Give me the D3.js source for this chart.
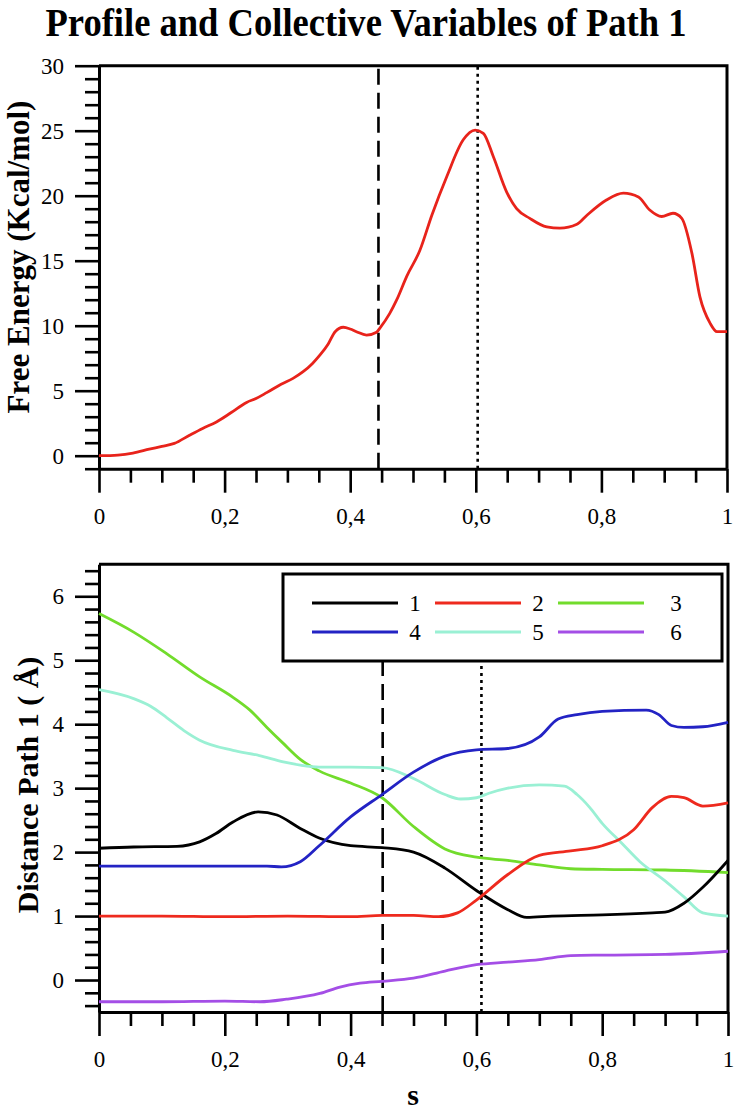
<!DOCTYPE html>
<html>
<head>
<meta charset="utf-8">
<script src="https://cdn.jsdelivr.net/npm/d3@7"></script>
<style>
  html, body { margin: 0; padding: 0; background: #fff; }
  svg { display: block; }
  text { font-family: "Liberation Serif", "Times New Roman", serif; fill: #000; }
</style>
</head>
<body>
<svg id="chart" width="734" height="1112"></svg>
<script>
// ---------------- DATA ----------------
const titleText = "Profile and Collective Variables of Path 1";
const xTickLabels = ["0", "0,2", "0,4", "0,6", "0,8", "1"];
const xMajorTicks = [0, 0.2, 0.4, 0.6, 0.8, 1];

// Free energy profile (top panel)
const feS = [0, 0.03, 0.054, 0.08, 0.1, 0.12, 0.145, 0.165, 0.187, 0.21, 0.235, 0.25, 0.267, 0.29, 0.309, 0.325, 0.34, 0.352, 0.365, 0.376, 0.389, 0.40, 0.41, 0.426, 0.442, 0.447, 0.463, 0.474, 0.49, 0.511, 0.53, 0.554, 0.58, 0.599, 0.612, 0.628, 0.649, 0.665, 0.686, 0.713, 0.734, 0.761, 0.777, 0.808, 0.835, 0.859, 0.877, 0.896, 0.914, 0.928, 0.944, 0.957, 0.973, 0.984, 1.0];
const feVal = [0, 0.05, 0.2, 0.5, 0.72, 0.95, 1.6, 2.1, 2.6, 3.3, 4.1, 4.4, 4.85, 5.5, 5.95, 6.46, 7.1, 7.75, 8.6, 9.54, 9.88, 9.75, 9.54, 9.28, 9.5, 9.8, 10.95, 11.98, 13.8, 15.8, 18.5, 21.5, 24.3, 25.05, 24.8, 23.0, 20.3, 19.0, 18.26, 17.6, 17.5, 17.8, 18.5, 19.67, 20.2, 19.9, 18.9, 18.4, 18.65, 18.26, 15.6, 12.2, 10.2, 9.54, 9.54];
const feYTickLabels = [0, 5, 10, 15, 20, 25, 30];

// Collective variables (bottom panel)
const cvNames = ["1", "2", "3", "4", "5", "6"];
const cv1S = [0, 0.055, 0.124, 0.16, 0.186, 0.213, 0.253, 0.283, 0.32, 0.35, 0.4, 0.45, 0.5, 0.55, 0.6, 0.65, 0.68, 0.72, 0.8, 0.88, 0.9, 0.93, 0.96, 1.0];
const cv1V = [2.06, 2.08, 2.09, 2.16, 2.29, 2.47, 2.63, 2.58, 2.37, 2.22, 2.1, 2.07, 2.0, 1.75, 1.4, 1.1, 0.98, 1.0, 1.02, 1.05, 1.06, 1.2, 1.45, 1.87];
const cv2S = [0, 0.1, 0.2, 0.3, 0.4, 0.45, 0.5, 0.54, 0.57, 0.6, 0.65, 0.7, 0.75, 0.8, 0.85, 0.88, 0.91, 0.93, 0.96, 1.0];
const cv2V = [1.0, 1.0, 0.99, 1.0, 0.99, 1.01, 1.01, 0.99, 1.05, 1.25, 1.65, 1.95, 2.02, 2.1, 2.35, 2.7, 2.87, 2.85, 2.72, 2.77];
const cv3S = [0, 0.055, 0.108, 0.16, 0.213, 0.24, 0.267, 0.293, 0.32, 0.35, 0.4, 0.45, 0.5, 0.55, 0.6, 0.65, 0.7, 0.75, 0.8, 0.9, 1.0];
const cv3V = [5.73, 5.44, 5.1, 4.74, 4.42, 4.22, 3.95, 3.7, 3.45, 3.27, 3.08, 2.85, 2.4, 2.05, 1.92, 1.87, 1.8, 1.74, 1.73, 1.72, 1.68];
const cv4S = [0, 0.1, 0.2, 0.267, 0.29, 0.32, 0.35, 0.4, 0.45, 0.5, 0.55, 0.6, 0.65, 0.7, 0.73, 0.76, 0.8, 0.87, 0.89, 0.91, 0.93, 0.96, 1.0];
const cv4V = [1.78, 1.78, 1.78, 1.78, 1.77, 1.85, 2.1, 2.55, 2.9, 3.25, 3.5, 3.6, 3.62, 3.8, 4.08, 4.15, 4.2, 4.22, 4.15, 3.98, 3.95, 3.96, 4.03];
const cv5S = [0, 0.055, 0.082, 0.108, 0.135, 0.16, 0.213, 0.255, 0.293, 0.32, 0.35, 0.4, 0.45, 0.5, 0.55, 0.575, 0.6, 0.62, 0.65, 0.7, 0.74, 0.76, 0.78, 0.8, 0.83, 0.86, 0.9, 0.93, 0.96, 1.0];
const cv5V = [4.54, 4.4, 4.28, 4.1, 3.9, 3.75, 3.59, 3.51, 3.41, 3.36, 3.33, 3.33, 3.32, 3.15, 2.9, 2.83, 2.85, 2.92, 3.0, 3.05, 3.03, 2.9, 2.7, 2.45, 2.15, 1.85, 1.55, 1.3, 1.05, 1.0];
const cv6S = [0, 0.1, 0.2, 0.256, 0.298, 0.351, 0.383, 0.415, 0.45, 0.5, 0.55, 0.6, 0.65, 0.7, 0.75, 0.8, 0.9, 1.0];
const cv6V = [-0.34, -0.34, -0.33, -0.34, -0.3, -0.21, -0.11, -0.05, -0.02, 0.03, 0.14, 0.24, 0.28, 0.32, 0.38, 0.39, 0.4, 0.45];
const cvColors = ["#000000", "#ee2a1e", "#72dc2c", "#2323c4", "#9af0d4", "#a44ee6"];
const cvYTickLabels = [0, 1, 2, 3, 4, 5, 6];

// marker positions along s (dashed, dotted)
const topMarkers = [0.445, 0.603];
const botMarkers = [0.451, 0.608];
const markerDash = ["16,8", "3,4"];

// ---------------- DRAW ----------------
const svg = d3.select("#chart");

function range(a, b, step) {
  const out = [];
  const n = Math.round((b - a) / step);
  for (let i = 0; i <= n; i++) out.push(+(a + i * step).toFixed(6));
  return out;
}

function drawPanel(g, x, y, yMajor, yMinor) {
  const fmtX = d => xTickLabels[xMajorTicks.findIndex(v => Math.abs(v - d) < 1e-9)];
  const xMinor = range(0, 1, 0.05).filter(v => !xMajorTicks.some(m => Math.abs(m - v) < 1e-9));
  const y0 = y.range()[0], y1 = y.range()[1];
  const x0 = x.range()[0], x1 = x.range()[1];

  // frame top + right
  g.append("path")
    .attr("d", `M${x0},${y1}H${x1}V${y0}`)
    .attr("fill", "none").attr("stroke", "#000").attr("stroke-width", 3);

  g.append("g").attr("transform", `translate(0,${y0})`)
    .call(d3.axisBottom(x).tickValues(xMinor).tickSize(14).tickSizeOuter(0).tickFormat(""))
    .call(s => s.select(".domain").remove())
    .call(s => s.selectAll("line").attr("stroke-width", 2.6));
  g.append("g").attr("transform", `translate(0,${y0})`)
    .call(d3.axisBottom(x).tickValues(xMajorTicks).tickSize(24).tickSizeOuter(0).tickPadding(15).tickFormat(fmtX))
    .call(s => s.select(".domain").attr("stroke-width", 3))
    .call(s => s.selectAll("line").attr("stroke-width", 2.6))
    .call(s => s.selectAll("text").attr("font-size", 23).style("font-family", "'Liberation Serif', serif"));

  g.append("g").attr("transform", `translate(${x0},0)`)
    .call(d3.axisLeft(y).tickValues(yMinor).tickSize(14).tickSizeOuter(0).tickFormat(""))
    .call(s => s.select(".domain").remove())
    .call(s => s.selectAll("line").attr("stroke-width", 2.6));
  g.append("g").attr("transform", `translate(${x0},0)`)
    .call(d3.axisLeft(y).tickValues(yMajor).tickSize(24).tickSizeOuter(0).tickPadding(11).tickFormat(d3.format("d")))
    .call(s => s.select(".domain").attr("stroke-width", 3))
    .call(s => s.selectAll("line").attr("stroke-width", 2.6))
    .call(s => s.selectAll("text").attr("font-size", 23).style("font-family", "'Liberation Serif', serif"));
}

// Title
svg.append("text")
  .attr("x", 366).attr("y", 36)
  .attr("text-anchor", "middle")
  .attr("font-size", 39).attr("font-weight", "bold")
  .attr("textLength", 641).attr("lengthAdjust", "spacingAndGlyphs")
  .text(titleText);

// ---------- Top panel ----------
const xTop = d3.scaleLinear().domain([0, 1]).range([99, 727]);
const yTop = d3.scaleLinear().domain([-1, 30]).range([468.7, 65.7]);
const gTop = svg.append("g");
drawPanel(gTop, xTop, yTop, feYTickLabels, range(-1, 30, 1).filter(v => v % 5 !== 0));

gTop.selectAll("line.marker").data(topMarkers).enter().append("line")
  .attr("class", "marker")
  .attr("x1", d => xTop(d)).attr("x2", d => xTop(d))
  .attr("y1", yTop(-1)).attr("y2", yTop(30))
  .attr("stroke", "#000").attr("stroke-width", 2.6)
  .attr("stroke-dasharray", (d, i) => markerDash[i]);

const feData = feS.map((s, i) => ({ s, v: feVal[i] }));
gTop.append("path").datum(feData)
  .attr("fill", "none").attr("stroke", "#e8231b").attr("stroke-width", 2.8)
  .attr("d", d3.line().x(d => xTop(d.s)).y(d => yTop(d.v)).curve(d3.curveMonotoneX));

svg.append("text")
  .attr("transform", "translate(29,257) rotate(-90)")
  .attr("text-anchor", "middle")
  .attr("font-size", 31).attr("font-weight", "bold")
  .text("Free Energy (Kcal/mol)");

// ---------- Bottom panel ----------
const xBot = d3.scaleLinear().domain([0, 1]).range([99, 728]);
const yBot = d3.scaleLinear().domain([-0.5, 6.5]).range([1012, 564.3]);
const gBot = svg.append("g");
drawPanel(gBot, xBot, yBot, cvYTickLabels,
  range(-0.4, 6.4, 0.2).filter(v => Math.abs(v - Math.round(v)) > 1e-6));

const legL = 283, legT = 574, legR = 722, legB = 661;

gBot.selectAll("line.marker").data(botMarkers).enter().append("line")
  .attr("class", "marker")
  .attr("x1", d => xBot(d)).attr("x2", d => xBot(d))
  .attr("y1", yBot(-0.5)).attr("y2", legB)
  .attr("stroke", "#000").attr("stroke-width", 2.6)
  .attr("stroke-dasharray", (d, i) => markerDash[i]);

const cvS = [cv1S, cv2S, cv3S, cv4S, cv5S, cv6S];
const cvV = [cv1V, cv2V, cv3V, cv4V, cv5V, cv6V];
const cvSeries = cvNames.map((name, k) => ({
  name, color: cvColors[k],
  pts: cvS[k].map((s, i) => ({ s, v: cvV[k][i] }))
}));
const drawOrder = [2, 4, 0, 3, 1, 5];
const lineBot = d3.line().x(d => xBot(d.s)).y(d => yBot(d.v)).curve(d3.curveMonotoneX);
gBot.selectAll("path.cv").data(drawOrder.map(k => cvSeries[k])).enter().append("path")
  .attr("class", "cv")
  .attr("fill", "none").attr("stroke", d => d.color).attr("stroke-width", 2.8)
  .attr("d", d => lineBot(d.pts));

// legend
const leg = gBot.append("g");
leg.append("rect")
  .attr("x", legL).attr("y", legT).attr("width", legR - legL).attr("height", legB - legT)
  .attr("fill", "#fff").attr("stroke", "#000").attr("stroke-width", 3);
const colLineX = [312, 435, 558];
const colLabelX = [415, 538, 676];
const rowY = [603, 632];
const legItems = leg.selectAll("g.item").data(cvSeries).enter().append("g").attr("class", "item");
legItems.append("line")
  .attr("x1", (d, i) => colLineX[i % 3]).attr("x2", (d, i) => colLineX[i % 3] + 86)
  .attr("y1", (d, i) => rowY[Math.floor(i / 3)]).attr("y2", (d, i) => rowY[Math.floor(i / 3)])
  .attr("stroke", d => d.color).attr("stroke-width", 2.8);
legItems.append("text")
  .attr("x", (d, i) => colLabelX[i % 3]).attr("y", (d, i) => rowY[Math.floor(i / 3)] + 8)
  .attr("text-anchor", "middle").attr("font-size", 23)
  .text(d => d.name);

svg.append("text")
  .attr("transform", "translate(38,785) rotate(-90)")
  .attr("text-anchor", "middle")
  .attr("font-size", 30).attr("font-weight", "bold")
  .text("Distance Path 1 ( Å)");

svg.append("text")
  .attr("x", 413).attr("y", 1105)
  .attr("text-anchor", "middle")
  .attr("font-size", 30).attr("font-weight", "bold")
  .text("s");
</script>
</body>
</html>
